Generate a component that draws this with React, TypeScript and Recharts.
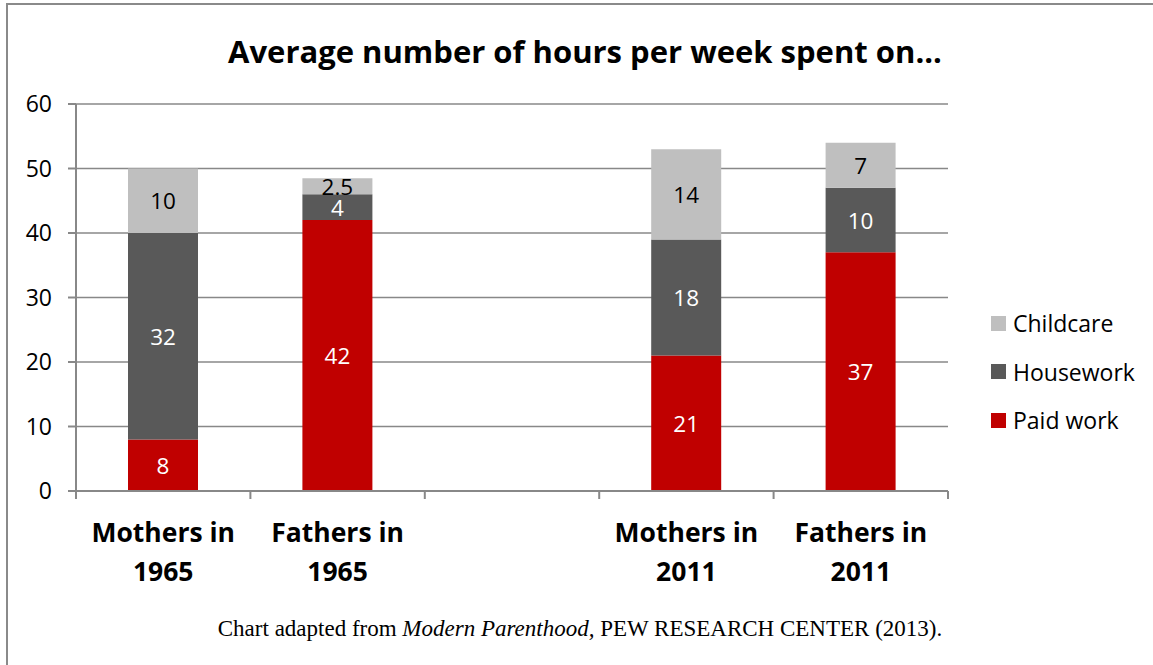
import { BarChart, Bar, XAxis, YAxis, CartesianGrid, LabelList, Legend } from "recharts"

// values (hours per week)
const categories = ["Mothers in 1965", "Fathers in 1965", "", "Mothers in 2011", "Fathers in 2011"]
const paidWork = [8, 42, null, 21, 37]
const housework = [32, 4, null, 18, 10]
const childcare = [10, 2.5, null, 14, 7]
const yTicks = [0, 10, 20, 30, 40, 50, 60]

const series = [
  { key: "paid", name: "Paid work", color: "#C00000", labelColor: "#ffffff" },
  { key: "house", name: "Housework", color: "#595959", labelColor: "#ffffff" },
  { key: "child", name: "Childcare", color: "#BFBFBF", labelColor: "#000000" },
]
const legendOrder = ["Childcare", "Housework", "Paid work"]

const data = categories.map((c, i) => ({
  category: c,
  paid: paidWork[i],
  house: housework[i],
  child: childcare[i],
}))

const AXIS_GRAY = "#888888"
const SANS = "'Open Sans', Lato, sans-serif"

// Excel-style ticks: marks sit between categories, labels wrap on two lines
function CategoryTick(props: any) {
  const { x, y, payload, index, visibleTicksCount, width } = props
  const half = payload?.offset || width / visibleTicksCount / 2
  const label: string = payload?.value || ""
  const cut = label.lastIndexOf(" ")
  const lines = cut > 0 ? [label.slice(0, cut), label.slice(cut + 1)] : [label]
  return (
    <g>
      <line x1={x - half} x2={x - half} y1={y} y2={y + 8} stroke={AXIS_GRAY} strokeWidth={2} />
      {index === visibleTicksCount - 1 && (
        <line x1={x + half} x2={x + half} y1={y} y2={y + 8} stroke={AXIS_GRAY} strokeWidth={2} />
      )}
      <text textAnchor="middle" fontFamily={SANS} fontWeight={700} fontSize={26.5} fill="#000">
        {lines.map((l, i) => (
          <tspan key={i} x={x} y={y + 51 + i * 39}>
            {l}
          </tspan>
        ))}
      </text>
    </g>
  )
}

function makeLabel(color: string) {
  return (props: any) => {
    const { x, y, width, height, value } = props
    if (value === null || value === undefined) return null
    return (
      <text
        x={x + width / 2}
        y={y + height / 2}
        textAnchor="middle"
        dominantBaseline="central"
        fontFamily={SANS}
        fontSize={22.5}
        fill={color}
      >
        {value}
      </text>
    )
  }
}

function LegendContent({ payload }: any) {
  const items = legendOrder
    .map((n) => (payload || []).find((p: any) => p.value === n))
    .filter(Boolean)
  return (
    <div>
      {items.map((p: any) => (
        <div
          key={p.value}
          style={{ display: "flex", alignItems: "center", height: 48.5, fontSize: 23, fontFamily: SANS, color: "#000" }}
        >
          <span style={{ width: 15, height: 15, background: p.color, marginRight: 7, display: "inline-block" }} />
          {p.value}
        </div>
      ))}
    </div>
  )
}

export default function App() {
  return (
    <div
      style={{
        position: "absolute",
        left: 0,
        top: 0,
        width: 1153,
        height: 665,
        overflow: "hidden",
        background: "#fff",
        fontFamily: SANS,
      }}
    >
      {/* frame */}
      <div
        style={{
          position: "absolute",
          left: 6,
          top: 3,
          width: 1153,
          height: 665,
          borderTop: "2px solid #8a8a8a",
          borderLeft: "2px solid #8a8a8a",
        }}
      />

      {/* title */}
      <div
        style={{
          position: "absolute",
          left: 0,
          top: 31,
          width: 1170,
          textAlign: "center",
          fontSize: 31,
          lineHeight: "40px",
          fontWeight: 700,
          color: "#000",
        }}
      >
        Average number of hours per week spent on...
      </div>

      <div style={{ position: "absolute", left: 0, top: 0 }}>
        <BarChart width={1153} height={665} data={data} margin={{ top: 104, right: 205, bottom: 74, left: 6 }}>
          <CartesianGrid vertical={false} stroke={AXIS_GRAY} strokeWidth={1.5} />
          <XAxis
            dataKey="category"
            height={100}
            interval={0}
            tickLine={false}
            tickSize={0}
            tickMargin={0}
            axisLine={{ stroke: AXIS_GRAY, strokeWidth: 2 }}
            tick={<CategoryTick />}
          />
          <YAxis
            width={70}
            domain={[0, 60]}
            ticks={yTicks}
            interval={0}
            tickSize={8}
            tickMargin={16}
            tickLine={{ stroke: AXIS_GRAY, strokeWidth: 2 }}
            axisLine={{ stroke: AXIS_GRAY, strokeWidth: 2 }}
            tick={{ fontSize: 23, fill: "#000", fontFamily: SANS }}
          />
          <Legend
            layout="vertical"
            align="center"
            verticalAlign="middle"
            content={<LegendContent />}
            wrapperStyle={{ left: 991, top: 299, width: 160, height: 150 }}
          />
          {series.map((s) => (
            <Bar key={s.key} dataKey={s.key} name={s.name} stackId="a" fill={s.color} barSize={70} isAnimationActive={false}>
              <LabelList dataKey={s.key} content={makeLabel(s.labelColor)} />
            </Bar>
          ))}
        </BarChart>
      </div>

      {/* source note */}
      <div
        style={{
          position: "absolute",
          left: 0,
          top: 616,
          width: 1160,
          textAlign: "center",
          fontFamily: "'Liberation Serif', 'Times New Roman', serif",
          fontSize: 23,
          color: "#000",
        }}
      >
        Chart adapted from <i>Modern Parenthood,</i> PEW RESEARCH CENTER (2013).
      </div>
    </div>
  )
}
